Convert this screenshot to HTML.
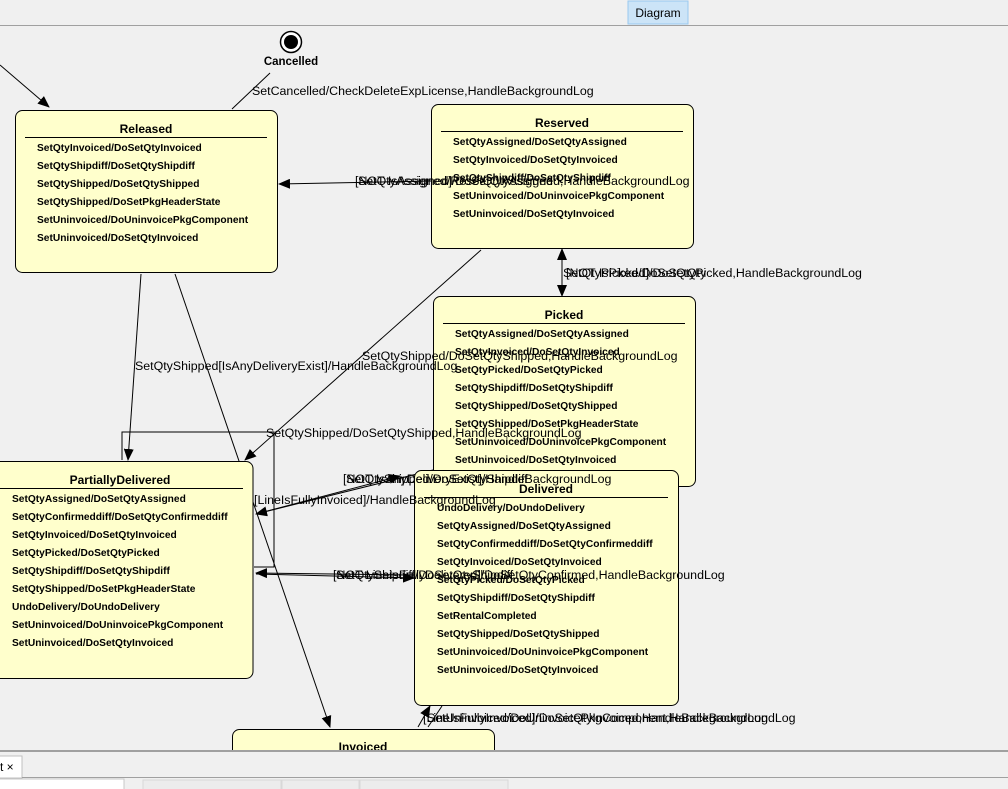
<!DOCTYPE html>
<html><head><style>
body{margin:0;width:1008px;height:789px;overflow:hidden;background:#f0f0f0;font-family:"Liberation Sans",Arial,sans-serif;position:relative}
svg{position:absolute;left:0;top:0}
</style></head><body>
<svg width="1008" height="789" viewBox="0 0 1008 789" font-family="Liberation Sans, Arial, sans-serif">
<defs><marker id="a" markerWidth="12" markerHeight="10" refX="11" refY="5" orient="auto" markerUnits="userSpaceOnUse"><path d="M0,0 L12,5 L0,10 z" fill="#000"/></marker></defs>
<rect x="0" y="0" width="1008" height="25" fill="#f0f0f0"/>
<rect x="628" y="1" width="60" height="23" fill="#cce4f7" stroke="#99c9ef"/>
<text x="658" y="17" font-size="12" text-anchor="middle">Diagram</text>
<line x1="0" y1="25.5" x2="1008" y2="25.5" stroke="#a0a0a0"/>

<g stroke="#000" fill="none" stroke-width="1">
<line x1="0" y1="65" x2="49" y2="107" marker-end="url(#a)"/>
<line x1="232" y1="109" x2="270" y2="73" />
<line x1="431" y1="181" x2="279" y2="184" marker-end="url(#a)"/>
<line x1="562" y1="262" x2="562" y2="249" marker-end="url(#a)"/>
<line x1="562" y1="252" x2="562" y2="296" marker-end="url(#a)"/>
<line x1="481" y1="250" x2="245" y2="460" marker-end="url(#a)"/>
<line x1="141" y1="274" x2="128" y2="460" marker-end="url(#a)"/>
<line x1="175" y1="274" x2="330" y2="727" marker-end="url(#a)"/>
<polyline points="122,460 122,432 274,432 274,567 254,567"/>
<line x1="433" y1="470" x2="256" y2="514" marker-end="url(#a)"/>
<line x1="256" y1="514" x2="400" y2="476" marker-end="url(#a)"/>
<line x1="414" y1="575" x2="256" y2="573" marker-end="url(#a)"/>
<line x1="256" y1="574" x2="414" y2="578" marker-end="url(#a)"/>
<line x1="418" y1="727" x2="430" y2="706" marker-end="url(#a)"/>
<line x1="428" y1="727" x2="442" y2="706" />
</g>
<circle cx="291" cy="42" r="10.5" fill="#fff" stroke="#000" stroke-width="1.5"/>
<circle cx="291" cy="42" r="7" fill="#000"/>
<text x="291" y="65" font-size="11.5" font-weight="bold" text-anchor="middle">Cancelled</text>

<g fill="#ffffcc" stroke="#000">
<rect x="15.5" y="110.5" width="262" height="162" rx="7"/>
<rect x="431.5" y="104.5" width="262" height="144" rx="7"/>
<rect x="433.5" y="296.5" width="262" height="190" rx="7"/>
<rect x="-10" y="461.5" width="263" height="217" rx="7"/>
<rect x="414.5" y="470.5" width="264" height="235" rx="7"/>
<rect x="232.5" y="729.5" width="262" height="40" rx="7"/>
</g>
<g stroke="#000">
<line x1="25" y1="137.5" x2="267" y2="137.5"/>
<line x1="441" y1="131.5" x2="683" y2="131.5"/>
<line x1="443" y1="323.5" x2="685" y2="323.5"/>
<line x1="0" y1="488.5" x2="243" y2="488.5"/>
<line x1="424" y1="497.5" x2="668" y2="497.5"/>
</g>
<g font-size="12" font-weight="bold" text-anchor="middle">
<text x="146" y="133">Released</text>
<text x="562" y="127">Reserved</text>
<text x="564" y="319">Picked</text>
<text x="120" y="484">PartiallyDelivered</text>
<text x="546" y="493">Delivered</text>
<text x="363" y="751">Invoiced</text>
</g>
<g font-size="10.2" font-weight="bold">
<text x="37" y="151">SetQtyInvoiced/DoSetQtyInvoiced</text>
<text x="37" y="169">SetQtyShipdiff/DoSetQtyShipdiff</text>
<text x="37" y="187">SetQtyShipped/DoSetQtyShipped</text>
<text x="37" y="205">SetQtyShipped/DoSetPkgHeaderState</text>
<text x="37" y="223">SetUninvoiced/DoUninvoicePkgComponent</text>
<text x="37" y="241">SetUninvoiced/DoSetQtyInvoiced</text>

<text x="453" y="145">SetQtyAssigned/DoSetQtyAssigned</text>
<text x="453" y="163">SetQtyInvoiced/DoSetQtyInvoiced</text>
<text x="453" y="181">SetQtyShipdiff/DoSetQtyShipdiff</text>
<text x="453" y="199">SetUninvoiced/DoUninvoicePkgComponent</text>
<text x="453" y="217">SetUninvoiced/DoSetQtyInvoiced</text>

<text x="455" y="337">SetQtyAssigned/DoSetQtyAssigned</text>
<text x="455" y="355">SetQtyInvoiced/DoSetQtyInvoiced</text>
<text x="455" y="373">SetQtyPicked/DoSetQtyPicked</text>
<text x="455" y="391">SetQtyShipdiff/DoSetQtyShipdiff</text>
<text x="455" y="409">SetQtyShipped/DoSetQtyShipped</text>
<text x="455" y="427">SetQtyShipped/DoSetPkgHeaderState</text>
<text x="455" y="445">SetUninvoiced/DoUninvoicePkgComponent</text>
<text x="455" y="463">SetUninvoiced/DoSetQtyInvoiced</text>

<text x="12" y="502">SetQtyAssigned/DoSetQtyAssigned</text>
<text x="12" y="520">SetQtyConfirmeddiff/DoSetQtyConfirmeddiff</text>
<text x="12" y="538">SetQtyInvoiced/DoSetQtyInvoiced</text>
<text x="12" y="556">SetQtyPicked/DoSetQtyPicked</text>
<text x="12" y="574">SetQtyShipdiff/DoSetQtyShipdiff</text>
<text x="12" y="592">SetQtyShipped/DoSetPkgHeaderState</text>
<text x="12" y="610">UndoDelivery/DoUndoDelivery</text>
<text x="12" y="628">SetUninvoiced/DoUninvoicePkgComponent</text>
<text x="12" y="646">SetUninvoiced/DoSetQtyInvoiced</text>

<text x="437" y="511">UndoDelivery/DoUndoDelivery</text>
<text x="437" y="529">SetQtyAssigned/DoSetQtyAssigned</text>
<text x="437" y="547">SetQtyConfirmeddiff/DoSetQtyConfirmeddiff</text>
<text x="437" y="565">SetQtyInvoiced/DoSetQtyInvoiced</text>
<text x="437" y="583">SetQtyPicked/DoSetQtyPicked</text>
<text x="437" y="601">SetQtyShipdiff/DoSetQtyShipdiff</text>
<text x="437" y="619">SetRentalCompleted</text>
<text x="437" y="637">SetQtyShipped/DoSetQtyShipped</text>
<text x="437" y="655">SetUninvoiced/DoUninvoicePkgComponent</text>
<text x="437" y="673">SetUninvoiced/DoSetQtyInvoiced</text>
</g>
<g font-size="12.4">
<text x="252" y="95">SetCancelled/CheckDeleteExpLicense,HandleBackgroundLog</text>
<text x="355" y="185">[NOT IsAssigned]/DoSetQtyAssigned,HandleBackgroundLog</text>
<text x="358" y="185">SetQtyAssigned/ResetQtyAssigned</text>
<text x="563" y="277">SetQtyPicked/DoSetQtyPicked,HandleBackgroundLog</text>
<text x="566" y="277">[NOT IsPicked]/DoSetQty</text>
<text x="135" y="370">SetQtyShipped[IsAnyDeliveryExist]/HandleBackgroundLog</text>
<text x="362" y="360">SetQtyShipped/DoSetQtyShipped,HandleBackgroundLog</text>
<text x="266" y="437">SetQtyShipped/DoSetQtyShipped,HandleBackgroundLog</text>
<text x="343" y="483">[NOT IsAnyDeliveryExist]/HandleBackgroundLog</text>
<text x="346" y="483">SetQtyShipped/DoSetQtyShipdiff</text>
<text x="254" y="504">[LineIsFullyInvoiced]/HandleBackgroundLog</text>
<text x="333" y="579">[NOT LineIsFullyDelivered]/DoSetQtyConfirmed,HandleBackgroundLog</text>
<text x="336" y="579">SetQtyShipdiff/DoSetQtyShipdiff</text>
<text x="423" y="722">[LineIsFullyInvoiced]/DoSetQtyInvoiced,HandleBackgroundLog</text>
<text x="427" y="722">SetUninvoiced/DoUninvoicePkgComponent,HandleBackgroundLog</text>
</g>

<rect x="0" y="751" width="1008" height="38" fill="#f0f0f0"/>
<line x1="0" y1="751" x2="1008" y2="751" stroke="#a0a0a0" stroke-width="2"/>
<rect x="-2" y="756" width="24" height="22" fill="#fff" stroke="#c0c0c0"/>
<text x="0" y="771" font-size="12">t ×</text>
<line x1="22" y1="777.5" x2="1008" y2="777.5" stroke="#a0a0a0"/>
<rect x="-2" y="779" width="126" height="14" fill="#fff" stroke="#c8c8c8"/>
<rect x="143" y="780" width="138" height="12" fill="#ececec" stroke="#d8d8d8"/>
<rect x="282" y="780" width="77" height="12" fill="#ececec" stroke="#d8d8d8"/>
<rect x="360" y="780" width="148" height="12" fill="#ececec" stroke="#d8d8d8"/>
</svg>
</body></html>
